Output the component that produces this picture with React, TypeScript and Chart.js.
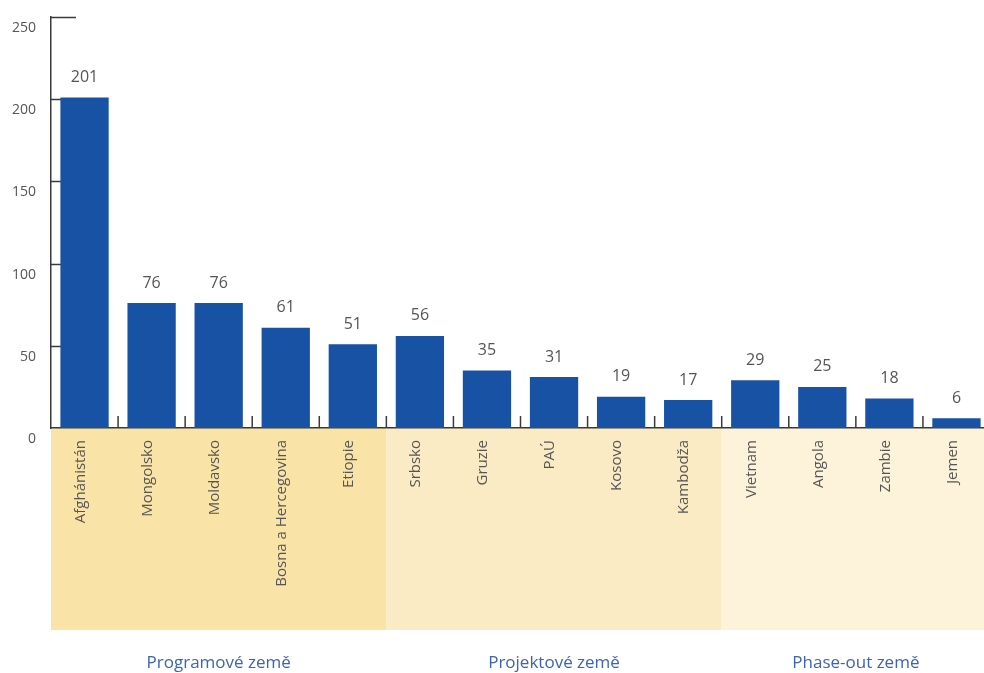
import React, { useEffect, useRef } from "react";
import { Chart, registerables } from "chart.js";

Chart.register(...registerables);

const categories = [
  "Afghánistán", "Mongolsko", "Moldavsko", "Bosna a Hercegovina", "Etiopie",
  "Srbsko", "Gruzie", "PAÚ", "Kosovo", "Kambodža",
  "Vietnam", "Angola", "Zambie", "Jemen",
];
const values = [201, 76, 76, 61, 51, 56, 35, 31, 19, 17, 29, 25, 18, 6];
const groupNames = ["Programové země", "Projektové země", "Phase-out země"];
const groupSizes = [5, 5, 4];
const groupColors = ["#F9E3A7", "#FBEBC4", "#FDF3DA"];
const yTicks = [0, 50, 100, 150, 200, 250];

const FONT = "'Open Sans', sans-serif";

const decorPlugin = {
  id: "decor",
  beforeDraw(chart: any) {
    const { ctx, chartArea, scales } = chart;
    const x = scales.x;
    const n = categories.length;
    const step = (x.getPixelForValue(n - 1) - x.getPixelForValue(0)) / (n - 1);
    let start = 0;
    ctx.save();
    groupSizes.forEach((size, g) => {
      const left = x.getPixelForValue(start) - step / 2;
      const right = x.getPixelForValue(start + size - 1) + step / 2;
      ctx.fillStyle = groupColors[g];
      ctx.fillRect(left, chartArea.bottom, right - left, 630 - chartArea.bottom);
      start += size;
    });
    ctx.restore();
  },
  beforeDatasetsDraw(chart: any) {
    const { ctx, chartArea, scales } = chart;
    const x = scales.x;
    const y = scales.y;
    const n = categories.length;
    const step = (x.getPixelForValue(n - 1) - x.getPixelForValue(0)) / (n - 1);
    ctx.save();
    ctx.strokeStyle = "#3a3a3a";
    ctx.lineWidth = 1.5;
    yTicks.forEach((v) => {
      if (v === 0) return;
      const py = Math.round(y.getPixelForValue(v)) + 0.5;
      ctx.beginPath();
      ctx.moveTo(chartArea.left, py);
      ctx.lineTo(chartArea.left + 25, py);
      ctx.stroke();
    });
    for (let i = 1; i <= n; i++) {
      const px = x.getPixelForValue(i) - step / 2;
      ctx.beginPath();
      ctx.moveTo(px, chartArea.bottom);
      ctx.lineTo(px, chartArea.bottom - 12);
      ctx.stroke();
    }
    ctx.restore();
  },
  afterDatasetsDraw(chart: any) {
    const { ctx } = chart;
    const meta = chart.getDatasetMeta(0);
    ctx.save();
    ctx.fillStyle = "#555555";
    ctx.font = `16px ${FONT}`;
    ctx.textAlign = "center";
    ctx.textBaseline = "middle";
    meta.data.forEach((bar: any, i: number) => {
      ctx.fillText(String(values[i]), bar.x, bar.y - 20);
    });
    ctx.restore();
  },
  afterDraw(chart: any) {
    const { ctx, scales } = chart;
    const x = scales.x;
    const n = categories.length;
    const step = (x.getPixelForValue(n - 1) - x.getPixelForValue(0)) / (n - 1);
    let start = 0;
    ctx.save();
    ctx.fillStyle = "#3E63B6";
    ctx.font = `17px ${FONT}`;
    ctx.textAlign = "center";
    ctx.textBaseline = "middle";
    groupSizes.forEach((size, g) => {
      const left = x.getPixelForValue(start) - step / 2;
      const right = x.getPixelForValue(start + size - 1) + step / 2;
      ctx.fillText(groupNames[g], (left + right) / 2, 663);
      start += size;
    });
    ctx.restore();
  },
};

export default function App() {
  const ref = useRef<HTMLCanvasElement>(null);
  useEffect(() => {
    if (!ref.current) return;
    const chart = new Chart(ref.current, {
      type: "bar",
      data: {
        labels: categories,
        datasets: [
          {
            data: values,
            backgroundColor: "#1752A5",
            borderWidth: 0,
            categoryPercentage: 1,
            barPercentage: 0.72,
          },
        ],
      },
      options: {
        animation: false,
        responsive: false,
        devicePixelRatio: 1,
        layout: { padding: { top: 17, right: 10, left: 0, bottom: 0 } },
        plugins: { legend: { display: false }, tooltip: { enabled: false } },
        scales: {
          x: {
            grid: { display: false, drawTicks: false },
            border: { display: true, color: "#3a3a3a", width: 1.5 },
            ticks: {
              color: "#555555",
              font: { family: FONT, size: 15 },
              minRotation: 90,
              maxRotation: 90,
              autoSkip: false,
              padding: 12,
              labelOffset: -4,
            },
            afterFit(scale: any) {
              scale.height = 245;
            },
          },
          y: {
            min: 0,
            max: 250,
            grid: { display: false, drawTicks: false },
            border: { display: true, color: "#3a3a3a", width: 1.5 },
            ticks: {
              stepSize: 50,
              color: "#555555",
              font: { family: FONT, size: 14 },
              padding: 15,
              labelOffset: 11,
            },
            afterFit(scale: any) {
              scale.width = 51;
              scale.paddingTop = 0;
              scale.paddingBottom = 0;
            },
          },
        },
      },
      plugins: [decorPlugin],
    });
    return () => chart.destroy();
  }, []);
  return (
    <div
      style={{
        position: "fixed",
        left: 0,
        top: 0,
        width: 984,
        height: 673,
        overflow: "hidden",
        background: "#fff",
      }}
    >
      <canvas ref={ref} width={1000} height={673} style={{ display: "block" }} />
    </div>
  );
}
